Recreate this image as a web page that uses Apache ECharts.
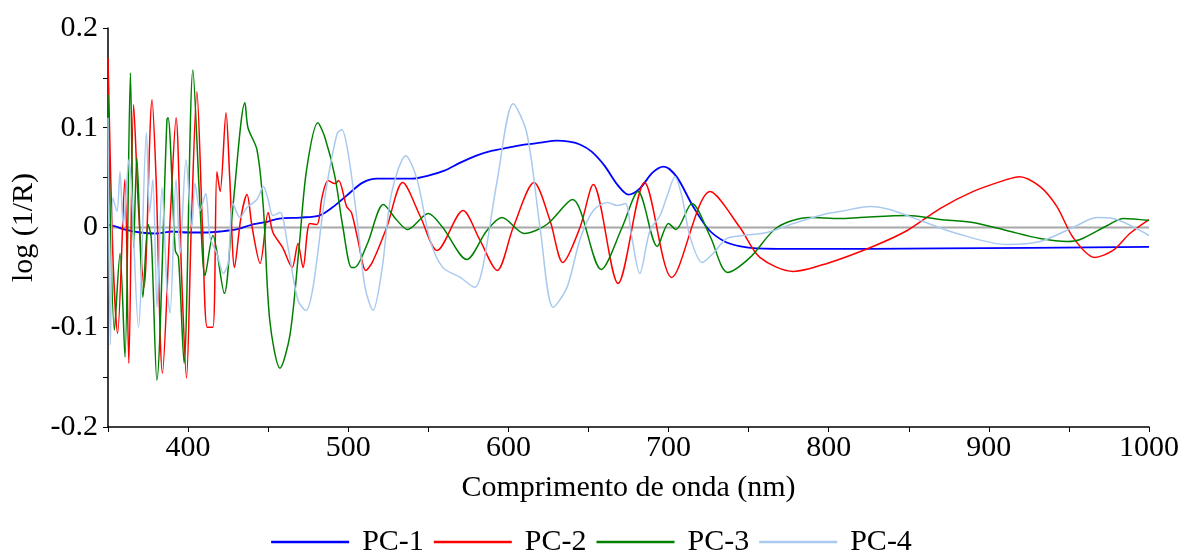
<!DOCTYPE html>
<html>
<head>
<meta charset="utf-8">
<script src="https://cdn.jsdelivr.net/npm/echarts@6/dist/echarts.min.js"></script>
<style>
  html, body { margin: 0; padding: 0; background: #fff; }
  #chart { width: 1183px; height: 550px; }
</style>
</head>
<body>
<div id="chart"></div>
<script>
  // [wavelength nm, loading]
  const pc1 = [[350,0.003],[355,0.001],[360,-0.002],[370,-0.005],[380,-0.006],[385,-0.005],[390,-0.004],[400,-0.005],[410,-0.005],[420,-0.004],[430,-0.002],[440,0.003],[450,0.006],[457,0.009],[470,0.010],[482,0.012],[490,0.020],[499,0.032],[509,0.045],[518,0.049],[530,0.049],[540,0.049],[550,0.052],[560,0.057],[570,0.065],[580,0.072],[590,0.077],[600,0.080],[610,0.083],[620,0.085],[630,0.087],[638,0.086],[645,0.083],[652,0.076],[660,0.062],[668,0.043],[675,0.033],[682,0.039],[690,0.055],[697,0.061],[705,0.051],[715,0.022],[725,-0.002],[735,-0.014],[745,-0.019],[755,-0.021],[780,-0.0215],[870,-0.021],[1000,-0.0195]];

  const pc2 = [[350,0.17],[353,-0.026],[356,-0.106],[360.5,0.048],[363,-0.136],[366,0.123],[369,0.02],[372.5,-0.06],[377.5,0.128],[380,0.05],[384,-0.146],[389,0.015],[392.5,0.11],[396,-0.05],[399,-0.151],[402,0.0],[405.5,0.136],[409,0.0],[412,-0.1],[415.5,-0.1],[418,0.056],[420,0.036],[423.7,0.115],[426,0.05],[429,-0.04],[433,0.01],[436.8,0.033],[440,0.0],[445,-0.036],[450,0.015],[453,-0.005],[459,-0.02],[465,-0.04],[468.6,-0.016],[471.8,-0.04],[476,0.004],[480.5,0.003],[483.6,0.03],[487.4,0.047],[491.7,0.044],[494,0.047],[499,0.021],[502,0.015],[506,-0.012],[511,-0.043],[515,-0.035],[524,0],[534,0.045],[545,0.011],[555.5,-0.023],[571.7,0.017],[582,-0.012],[593,-0.043],[603,0],[616,0.045],[626,0.007],[634,-0.035],[644.7,0],[653,0.043],[668.5,-0.056],[685,0.045],[702,-0.05],[726,0.036],[744.6,0],[757,-0.03],[778,-0.044],[799,-0.036],[827.6,-0.019],[849,-0.003],[869.5,0.019],[890,0.036],[911,0.048],[919,0.051],[932,0.041],[942.5,0.021],[952.6,-0.01],[966,-0.03],[977.5,-0.023],[988,-0.006],[1000,0.008]];

  const pc3 = [[350,0.133],[354,-0.103],[357.5,-0.026],[360.6,-0.13],[364,0.155],[366,-0.02],[368,0.07],[371.8,-0.07],[375,0.003],[377,-0.01],[380.5,-0.153],[386.8,0.108],[387.5,0.11],[392,-0.023],[394,-0.03],[397.5,-0.136],[403,0.158],[407.5,0.02],[410.6,-0.048],[415.5,-0.008],[422.6,-0.066],[428,0.021],[435.5,0.125],[437.4,0.1],[443,0.078],[447,0.02],[451,-0.093],[457.4,-0.141],[463.6,-0.108],[469.3,-0.02],[474,0.058],[481,0.105],[485.5,0.09],[491.7,0.051],[496.7,0],[502,-0.04],[504,-0.04],[512,-0.016],[522,0.023],[530,0.008],[537,-0.002],[550,0.014],[559,0],[574,-0.032],[586.6,-0.003],[596,0.01],[610,-0.006],[624,0.003],[640,0.028],[658,-0.042],[671,0],[681,0.036],[693,-0.019],[700,0.004],[704.6,-0.002],[714.6,0.024],[726,-0.009],[737,-0.045],[751,-0.03],[767.7,0],[788,0.01],[807,0.009],[819.5,0.01],[849,0.012],[869.5,0.008],[890,0.005],[911,-0.003],[932,-0.011],[949,-0.014],[957,-0.012],[974,0.002],[984,0.009],[1000,0.007]];

  const pc4 = [[350,0.11],[351.5,-0.118],[353,0.03],[355.6,0.016],[357.5,0.056],[359.5,0.002],[363,0.068],[369,-0.1],[374,0.095],[376,0.015],[378,0.048],[380.6,-0.08],[383.7,0.04],[386.8,-0.06],[388.7,-0.086],[392.5,0.048],[395,-0.026],[398.7,0.068],[402.4,0],[404.3,0.044],[407.5,0.017],[411,0.034],[413.7,-0.01],[418,-0.026],[422,-0.046],[425,-0.036],[428,0.024],[432.4,0.01],[436.8,0.02],[443,0.028],[447,0.041],[450,0.028],[453,0.012],[457.4,0.015],[462.4,-0.02],[468.6,-0.073],[473.6,-0.083],[478,-0.06],[485.5,0.031],[493,0.094],[496,0.098],[500,0.074],[505.5,0.008],[510.5,-0.06],[515.5,-0.083],[521,-0.043],[527,0.034],[536,0.072],[543,0.048],[551,-0.012],[559,-0.04],[570,-0.05],[579,-0.06],[584,-0.04],[593,0.047],[603,0.124],[611.6,0.094],[620,-0.003],[628,-0.08],[636.6,-0.06],[644.7,-0.012],[653,0.017],[662,0.025],[668,0.022],[673,0.024],[677,-0.009],[682,-0.046],[688.4,-0.003],[694.7,0.012],[699,0.031],[704,0.051],[708.4,0.031],[713.4,-0.009],[721,-0.035],[727.8,-0.026],[736.5,-0.011],[746.5,-0.008],[761.5,-0.005],[778,0.004],[799,0.014],[807,0.016],[826,0.021],[838,0.018],[859,0.006],[880,-0.006],[911,-0.017],[932,-0.014],[952.6,0],[967.5,0.01],[977.5,0.009],[1000,-0.008]];

  const seriesNames = ['PC-1', 'PC-2', 'PC-3', 'PC-4'];
  const seriesColors = ['#0000ff', '#ff0000', '#008000', '#a9c9ef'];
  const seriesWidths = [1.8, 1.5, 1.5, 1.5];
  const zeroLine = [[350, 0], [1000, 0]];

  const font = 'Liberation Serif';
  const chart = echarts.init(document.getElementById('chart'));

  let lineSeries = [pc1, pc2, pc3, pc4].map(function (d, i) {
    return {
      name: seriesNames[i],
      type: 'line',
      data: d,
      symbol: 'none',
      smooth: 0.3,
      sampling: 'none',
      z: 3,
      lineStyle: { color: seriesColors[i], width: seriesWidths[i] },
      itemStyle: { color: seriesColors[i] },
    };
  });

  chart.setOption({
    animation: false,
    grid: { left: 108, right: 34, top: 28, bottom: 123 },
    legend: {
      data: seriesNames,
      top: 522,
      left: 'center',
      icon: 'rect',
      itemWidth: 78,
      itemHeight: 2.5,
      itemGap: 10,
      textStyle: { fontFamily: font, fontSize: 30, color: '#000', padding: [0, 0, 0, 8] },
    },
    xAxis: {
      type: 'value',
      min: 350,
      max: 1000,
      interval: 50,
      name: 'Comprimento de onda (nm)',
      nameLocation: 'middle',
      nameGap: 46,
      nameTextStyle: { fontFamily: font, fontSize: 30, color: '#000' },
      axisLine: { onZero: false, lineStyle: { color: '#000', width: 1.5 } },
      axisTick: { length: 5, lineStyle: { color: '#000' } },
      splitLine: { show: false },
      axisLabel: {
        margin: 6,
        fontFamily: font, fontSize: 30, color: '#000',
        formatter: function (v) { return (v % 100 === 0) ? String(v) : ''; },
      },
    },
    yAxis: {
      type: 'value',
      min: -0.2,
      max: 0.2,
      interval: 0.05,
      name: 'log (1/R)',
      nameLocation: 'middle',
      nameGap: 58,
      nameTextStyle: { fontFamily: font, fontSize: 30, color: '#000' },
      axisLine: { show: true, onZero: false, lineStyle: { color: '#000', width: 1.5 } },
      axisTick: { show: true, length: 5, lineStyle: { color: '#000' } },
      splitLine: { show: false },
      axisLabel: {
        margin: 10,
        fontFamily: font, fontSize: 30, color: '#000',
        formatter: function (v) {
          let k = Math.round(v * 100);
          if (k % 10 !== 0) return '';
          return k === 0 ? '0' : (k / 100).toFixed(1);
        },
      },
    },
    series: [{
      name: 'zero',
      type: 'line',
      data: zeroLine,
      symbol: 'none',
      silent: true,
      z: 2,
      lineStyle: { color: '#a8a8a8', width: 2 },
    }].concat(lineSeries),
  });
</script>
</body>
</html>
